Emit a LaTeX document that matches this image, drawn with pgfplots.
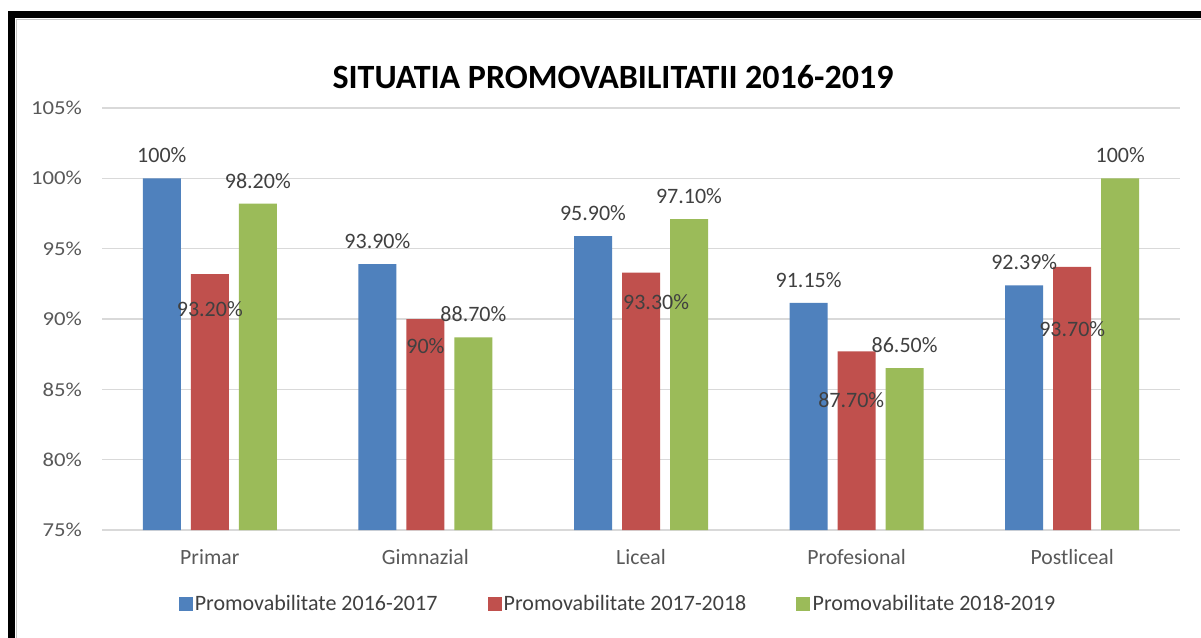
\documentclass[border=0pt]{standalone}
\usepackage{fontspec}
\setmainfont{Carlito}
\newfontfamily\tickfont{Carlito}[FakeStretch=1.15]
\usepackage{pgfplots}
\pgfplotsset{compat=1.18}
\definecolor{blueb}{HTML}{4F81BD}
\definecolor{redb}{HTML}{C0504D}
\definecolor{greenb}{HTML}{9BBB59}
\definecolor{gridgray}{HTML}{D9D9D9}
\definecolor{tickgray}{HTML}{595959}
\definecolor{labelgray}{HTML}{404040}
\begin{document}
\begin{tikzpicture}
\useasboundingbox (0,0) rectangle (900.75pt,-477.75pt);
\fill[white] (0,0) rectangle (900.75pt,-477.75pt);
\draw[black, line width=5.25pt, line join=miter] (8.25pt,-480pt) -- (8.25pt,-10.875pt) -- (903pt,-10.875pt);
\draw[gray!45, line width=0.8pt] (12.3pt,-480pt) -- (12.3pt,-14.3pt) -- (903pt,-14.3pt);
\node[font=\fontsize{25.5pt}{29pt}\selectfont\bfseries, text=black] at (459.75pt,-57.75pt) {SITUATIA PROMOVABILITATII 2016-2019};
\begin{axis}[
  at={(76.5pt,-397.5pt)}, anchor=south west,
  scale only axis, width=808.5pt, height=316.5pt,
  ybar=7.5pt, bar width=28.5pt,
  xmin=-0.5, xmax=4.5, ymin=75, ymax=105,
  xtick={0,1,2,3,4},
  xticklabels={Primar,Gimnazial,Liceal,Profesional,Postliceal},
  ytick={75,80,85,90,95,100,105},
  yticklabels={75\%,80\%,85\%,90\%,95\%,100\%,105\%},
  axis line style={draw=none}, major tick length=0pt,
  ymajorgrids, grid style={line width=1.1pt, color=gridgray},
  xticklabel style={font=\fontsize{16.3pt}{18pt}\selectfont, text=tickgray, anchor=center, inner sep=0pt, yshift=-20.25pt},
  yticklabel style={font=\tickfont\fontsize{14.8pt}{16pt}\selectfont, text=tickgray, anchor=east, inner sep=0pt, xshift=-15pt},
  clip=false,
  nodes near coords,
  point meta=explicit symbolic,
  every node near coord/.append style={font=\fontsize{16.5pt}{18pt}\selectfont, text=labelgray, anchor=center, inner sep=0pt, yshift=17.25pt},
  legend columns=3,
  legend style={at={(0.4787,-0.1754)}, anchor=center, draw=none, fill=none,
    font=\fontsize{16.5pt}{18pt}\selectfont, text=labelgray,
    nodes={inner xsep=1.6pt},
    /tikz/every even column/.append style={column sep=36pt}},
  legend image code/.code={\fill[#1] (0pt,-5.25pt) rectangle (10.5pt,5.25pt);},
]
\addplot[fill=blueb, draw=none] coordinates {(0,100)[100\%] (1,93.9)[93.90\%] (2,95.9)[95.90\%] (3,91.15)[91.15\%] (4,92.39)[92.39\%]};
\addplot[fill=redb, draw=none, nodes near coords=] coordinates {(0,93.2) (1,90) (2,93.3) (3,87.7) (4,93.7)};
\addplot[fill=greenb, draw=none] coordinates {(0,98.2)[98.20\%] (1,88.7)[88.70\%] (2,97.1)[97.10\%] (3,86.5)[86.50\%] (4,100)[100\%]};
\legend{Promovabilitate 2016-2017, Promovabilitate 2017-2018, Promovabilitate 2018-2019}
\begin{scope}[every node/.style={font=\fontsize{16.5pt}{18pt}\selectfont, text=labelgray, inner sep=0pt}]
\node at (axis cs:0,90.71) {93.20\%};
\node at (axis cs:1,88.08) {90\%};
\node at (axis cs:2.07,91.21) {93.30\%};
\node at (axis cs:2.975,84.24) {87.70\%};
\node at (axis cs:4,89.29) {93.70\%};
\end{scope}
\end{axis}
\end{tikzpicture}
\end{document}
